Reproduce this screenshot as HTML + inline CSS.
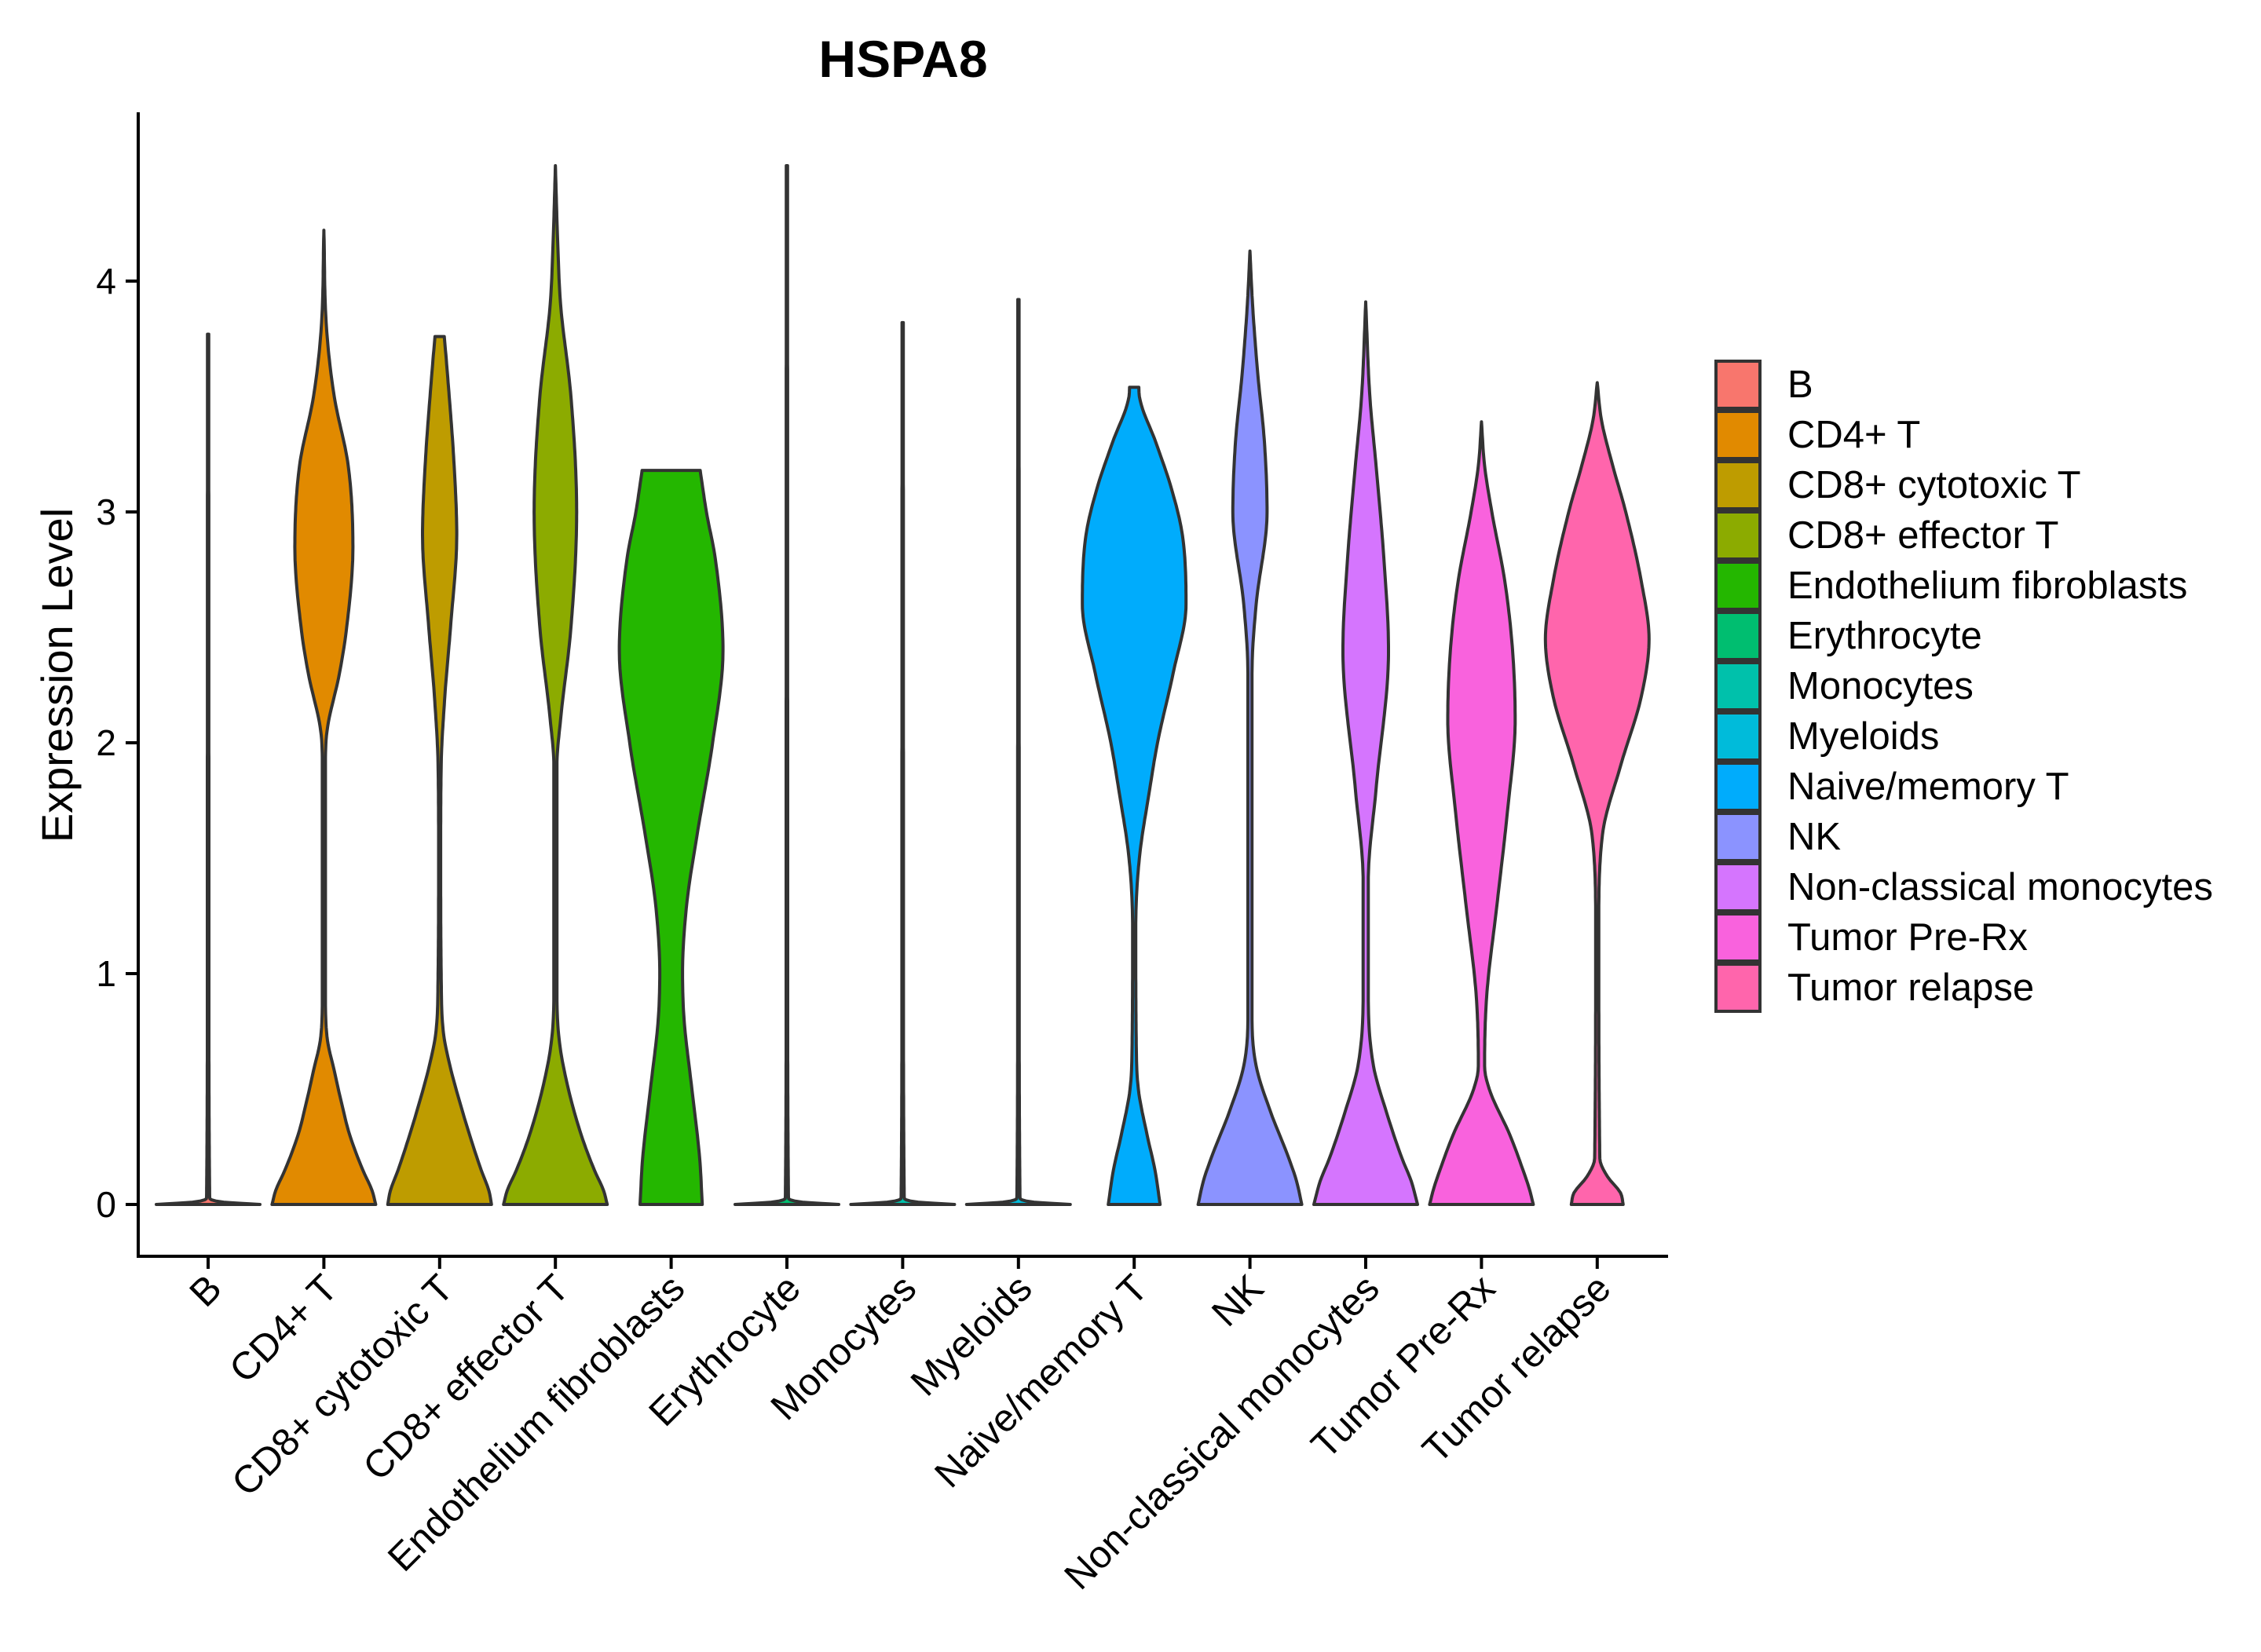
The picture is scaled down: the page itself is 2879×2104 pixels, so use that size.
<!DOCTYPE html>
<html><head><meta charset="utf-8"><style>
html,body{margin:0;padding:0;background:#fff}
svg{display:block}
text{font-family:"Liberation Sans",Arial,sans-serif;fill:#000}
</style></head><body>
<svg id="chart" width="2879" height="2104" viewBox="0 0 2879 2104" xmlns="http://www.w3.org/2000/svg">
<text x="1150" y="98" font-size="66" font-weight="bold" text-anchor="middle">HSPA8</text>
<g id="plot"></g>
<text transform="translate(92,860) rotate(-90)" font-size="56" text-anchor="middle">Expression Level</text>
<g id="legend"></g>
</svg>
<script>
const categories = ["B","CD4+ T","CD8+ cytotoxic T","CD8+ effector T","Endothelium fibroblasts","Erythrocyte","Monocytes","Myeloids","Naive/memory T","NK","Non-classical monocytes","Tumor Pre-Rx","Tumor relapse"];
const colors = ["#F8766D","#E18A00","#BE9C00","#8CAB00","#24B700","#00BE70","#00C1AB","#00BBDA","#00ACFC","#8B93FF","#D575FE","#F962DD","#FF65AC"];
const yTicks = [0,1,2,3,4];
// density profiles: [expression value, relative half-width]
const profB = [[0,1],[0.01,0.3],[0.03,0.03],[1,0.015],[3.77,0.012]];
const profCD4 = [[0,1],[0.06,0.93],[0.15,0.75],[0.3,0.5],[0.45,0.33],[0.58,0.2],[0.71,0.07],[0.9,0.03],[1.9,0.03],[2.05,0.06],[2.3,0.3],[2.5,0.44],[2.85,0.56],[3.2,0.47],[3.5,0.2],[3.8,0.05],[4.22,0]];
const profCD8c = [[0,1],[0.06,0.95],[0.15,0.8],[0.3,0.58],[0.45,0.38],[0.6,0.2],[0.75,0.07],[1.0,0.03],[1.5,0.02],[1.9,0.03],[2.2,0.1],[2.5,0.21],[2.9,0.33],[3.2,0.28],[3.6,0.15],[3.76,0.09]];
const profCD8e = [[0,1],[0.06,0.93],[0.15,0.75],[0.3,0.5],[0.5,0.25],[0.7,0.08],[0.9,0.03],[1.9,0.03],[2.1,0.1],[2.5,0.3],[3.0,0.41],[3.5,0.3],[3.9,0.1],[4.2,0.04],[4.5,0]];
const profEndo = [[0,0.6],[0.2,0.55],[0.5,0.4],[0.8,0.25],[1.0,0.22],[1.3,0.3],[1.6,0.5],[2.0,0.8],[2.4,1.0],[2.8,0.85],[3.0,0.68],[3.18,0.56]];
const profEry = [[0,1],[0.01,0.3],[0.03,0.03],[1,0.015],[4.5,0.012]];
const profMono = [[0,1],[0.01,0.3],[0.03,0.03],[1,0.015],[3.82,0.012]];
const profMyel = [[0,1],[0.01,0.3],[0.03,0.03],[1,0.015],[3.92,0.012]];
const profNaive = [[0,0.5],[0.15,0.4],[0.3,0.25],[0.5,0.08],[0.7,0.04],[1.2,0.03],[1.5,0.1],[1.8,0.3],[2.0,0.45],[2.3,0.75],[2.6,1.0],[2.9,0.93],[3.1,0.72],[3.3,0.42],[3.5,0.1],[3.54,0.09]];
const profNK = [[0,1],[0.1,0.9],[0.2,0.75],[0.4,0.4],[0.6,0.12],[0.8,0.04],[2.3,0.04],[2.6,0.12],[3.0,0.33],[3.3,0.28],[3.6,0.15],[3.9,0.05],[4.13,0]];
const profNC = [[0,1],[0.1,0.88],[0.2,0.7],[0.4,0.4],[0.6,0.15],[0.9,0.05],[1.4,0.05],[1.8,0.2],[2.4,0.44],[2.8,0.35],[3.2,0.2],[3.5,0.08],[3.91,0]];
const profPre = [[0,1],[0.07,0.92],[0.15,0.8],[0.3,0.55],[0.5,0.15],[0.6,0.06],[0.9,0.1],[1.3,0.3],[1.7,0.5],[2.1,0.65],[2.4,0.6],[2.7,0.45],[3.0,0.2],[3.2,0.06],[3.39,0]];
const profRel = [[0,0.5],[0.05,0.45],[0.12,0.2],[0.2,0.05],[1.2,0.03],[1.6,0.1],[1.9,0.45],[2.2,0.85],[2.45,1.0],[2.7,0.85],[3.0,0.55],[3.2,0.3],[3.4,0.08],[3.56,0]];
const profiles = [profB,profCD4,profCD8c,profCD8e,profEndo,profEry,profMono,profMyel,profNaive,profNK,profNC,profPre,profRel];

const NS="http://www.w3.org/2000/svg";
const X0=176, XEND=2124, Y0=1534, YUNIT=294, AXY=1600, AXTOP=143;
const BAND=147.4, FIRST=265, HALF=66;
const xPos = i => FIRST + i*BAND;
const yPos = v => Y0 - v*YUNIT;
const plot=document.getElementById('plot');
function mk(tag,attrs,parent){const e=document.createElementNS(NS,tag);for(const k in attrs)e.setAttribute(k,attrs[k]);(parent||plot).appendChild(e);return e;}

function smoothPts(prof){ // monotone cubic (Fritsch-Carlson) width(value)
  const n=prof.length, xs=prof.map(p=>p[0]), ys=prof.map(p=>p[1]);
  const d=[],m=[];
  for(let i=0;i<n-1;i++) d.push((ys[i+1]-ys[i])/(xs[i+1]-xs[i]));
  m[0]=d[0]; m[n-1]=d[n-2];
  for(let i=1;i<n-1;i++) m[i]=(d[i-1]*d[i]<=0)?0:(d[i-1]+d[i])/2;
  for(let i=0;i<n-1;i++){
    if(d[i]===0){m[i]=0;m[i+1]=0;continue;}
    const a=m[i]/d[i], b=m[i+1]/d[i], s=a*a+b*b;
    if(s>9){const t=3/Math.sqrt(s);m[i]=t*a*d[i];m[i+1]=t*b*d[i];}
  }
  const out=[];
  for(let i=0;i<n-1;i++){
    const h=xs[i+1]-xs[i], steps=Math.max(4,Math.ceil(h/0.02));
    for(let k=0;k<steps;k++){
      const t=k/steps,t2=t*t,t3=t2*t;
      const w=(2*t3-3*t2+1)*ys[i]+(t3-2*t2+t)*h*m[i]+(-2*t3+3*t2)*ys[i+1]+(t3-t2)*h*m[i+1];
      out.push([xs[i]+t*h,Math.max(0,w)]);
    }
  }
  out.push(prof[n-1]);
  return out;
}

categories.forEach((c,i)=>{
  const cx=xPos(i);
  const pts=smoothPts(profiles[i]);
  const right=pts.map(p=>[cx+p[1]*HALF, yPos(p[0])]);
  const left=pts.slice().reverse().map(p=>[cx-p[1]*HALF, yPos(p[0])]);
  const all=right.concat(left);
  const d='M'+all.map(p=>p[0].toFixed(1)+','+p[1].toFixed(1)).join('L')+'Z';
  const v=mk('path',{d:d,fill:colors[i],stroke:'#333333','stroke-width':4,'stroke-linejoin':'round'});
  
  
  const t=mk('line',{x1:cx,x2:cx,y1:AXY,y2:AXY+16,stroke:'#000','stroke-width':4});
  
  
  const lx=cx+20, ly=AXY+44;
  const lab=mk('text',{x:lx,y:ly,'font-size':49,'text-anchor':'end',transform:`rotate(-45 ${lx} ${ly})`});
  lab.textContent=c;
  
  
});

yTicks.forEach(v=>{
  const y=yPos(v);
  const t=mk('line',{x1:X0-16,x2:X0,y1:y,y2:y,stroke:'#000','stroke-width':4});
  
  
  const l=mk('text',{x:X0-28,y:y+16,'font-size':46,'text-anchor':'end'});
  l.textContent=v;
  
  
});
const ya=mk('line',{x1:X0,x2:X0,y1:AXTOP,y2:AXY+2,stroke:'#000','stroke-width':4});


const xa=mk('line',{x1:X0-2,x2:XEND,y1:AXY,y2:AXY,stroke:'#000','stroke-width':4});



const leg=document.getElementById('legend');
categories.forEach((c,i)=>{
  const y=458+i*64;
  const g=mk('g',{},leg);
  
  
  mk('rect',{x:2185,y:y+2,width:56,height:60,fill:colors[i],stroke:'#333333','stroke-width':4},g);
  const t=mk('text',{x:2276,y:y+48,'font-size':49},g);
  t.textContent=c;
});
</script>
</body></html>
